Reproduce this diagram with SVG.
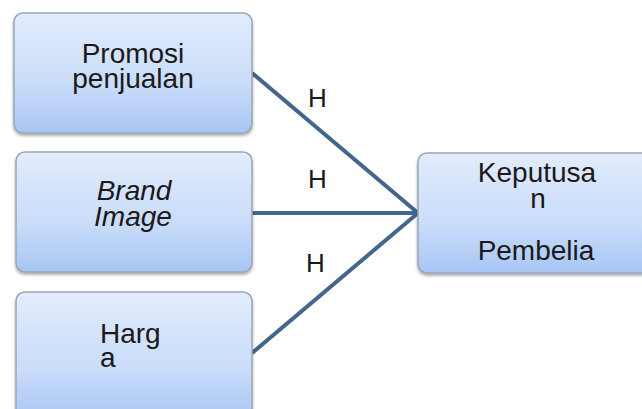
<svg xmlns="http://www.w3.org/2000/svg" width="642" height="409" viewBox="0 0 642 409">
<defs>
<linearGradient id="g" x1="0" y1="0" x2="0" y2="1">
<stop offset="0" stop-color="#e2ecfc"/>
<stop offset="0.6" stop-color="#c9dcf9"/>
<stop offset="1" stop-color="#a7c5f4"/>
</linearGradient>
<filter id="sh" x="-10%" y="-10%" width="120%" height="130%">
<feDropShadow dx="0" dy="2" stdDeviation="1.5" flood-color="#000" flood-opacity="0.35"/>
</filter>
</defs>
<style>
.box{fill:url(#g);stroke:#9aa6b6;stroke-width:1.5;filter:url(#sh)}
.t{font-family:"Liberation Sans",Arial,sans-serif;font-size:28px;fill:#1a1a1a}
.h{font-family:"Liberation Sans",Arial,sans-serif;font-size:26px;fill:#1a1a1a}
.c{stroke:#43668f;stroke-width:4;fill:none}
</style>
<rect width="642" height="409" fill="#fff"/>
<g id="connectors">
<line class="c" x1="252" y1="73" x2="418" y2="213"/>
<line class="c" x1="252" y1="213" x2="418" y2="213"/>
<line class="c" x1="252" y1="353" x2="418" y2="213"/>
<text class="h" x="308" y="107">H</text>
<text class="h" x="308" y="188">H</text>
<text class="h" x="306" y="272">H</text>
</g>
<g id="promosi">
<rect class="box" x="14" y="13" width="238" height="120" rx="9"/>
<text class="t" x="133" y="63" text-anchor="middle">Promosi</text>
<text class="t" x="133" y="88" text-anchor="middle">penjualan</text>
</g>
<g id="brand">
<rect class="box" x="16" y="152" width="236" height="120" rx="9"/>
<text class="t" x="134" y="200" text-anchor="middle" font-style="italic">Brand</text>
<text class="t" x="133" y="226" text-anchor="middle" font-style="italic">Image</text>
</g>
<g id="harga">
<rect class="box" x="16" y="292" width="236" height="130" rx="9"/>
<text class="t" x="100" y="343">Harg</text>
<text class="t" x="100" y="367">a</text>
</g>
<g id="keputusan">
<rect class="box" x="418" y="153" width="236" height="120" rx="9"/>
<text class="t" x="537" y="182" text-anchor="middle">Keputusa</text>
<text class="t" x="538" y="208" text-anchor="middle">n</text>
<text class="t" x="536" y="260" text-anchor="middle">Pembelia</text>
</g>
</svg>
